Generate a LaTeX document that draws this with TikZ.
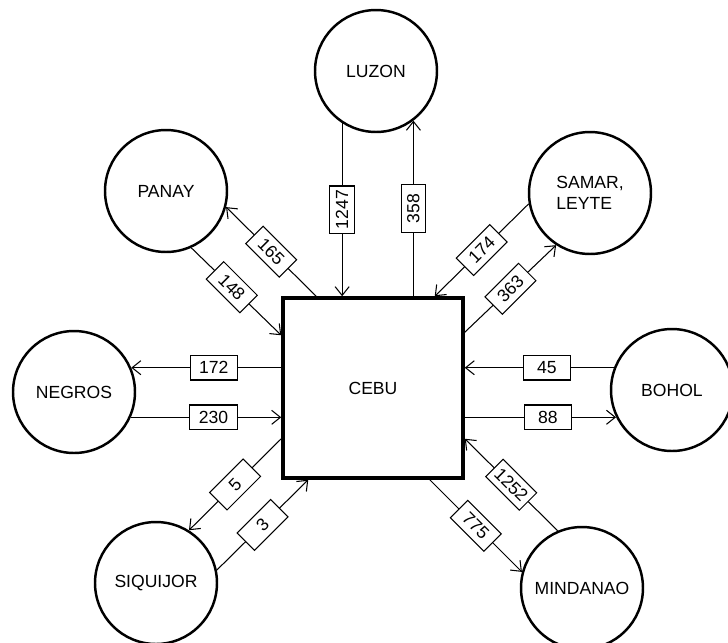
\documentclass[tikz,border=0pt]{standalone}
\usepackage{fontspec}
\setmainfont{Liberation Sans}
\usetikzlibrary{arrows.meta, calc}

\begin{document}
\begin{tikzpicture}[x=0.02cm, y=-0.02cm,
  island/.style={draw, circle, line width=1.4pt, minimum size=2.44cm, align=left},
  hub/.style={draw, rectangle, line width=2pt, minimum size=3.6cm},
  flow/.style={line width=0.6pt, -{Straight Barb[length=5pt,width=8pt]}},
  amount/.style={draw, fill=white, line width=0.6pt, minimum width=27pt, minimum height=14pt, inner sep=1pt}]
\useasboundingbox (0,0) rectangle (728,643);
\node (cebu) [hub] at (373,388) {CEBU};
\node (luzon) [island] at (376,71) {LUZON};
\node (panay) [island] at (166,191) {PANAY};
\node (samar) [island] at (590,193) {SAMAR,\\LEYTE};
\node (negros) [island] at (74,392) {NEGROS};
\node (bohol) [island] at (672,390) {BOHOL};
\node (siquijor) [island] at (156,583) {SIQUIJOR};
\node (mindanao) [island] at (582,588) {MINDANAO};
\draw[flow] (luzon.-123) -- node[amount, rotate=90] {1247} (luzon.-123 |- cebu.north);
\draw[flow] (luzon.-53 |- cebu.north) -- node[amount, rotate=90] {358} (luzon.-53);
\draw[flow] ($(cebu.north west)+(35,0)$) -- node[amount, rotate=-45] {165} (panay.-15);
\draw[flow] (panay.-66) -- node[amount, rotate=-45, pos=.45] {148} ($(cebu.north west)+(0,39)$);
\draw[flow] (samar.-170) -- node[amount, rotate=45] {174} ($(cebu.north east)+(-30,0)$);
\draw[flow] ($(cebu.north east)+(0,36)$) -- node[amount, rotate=45] {363} (samar.-123);
\draw[flow] (negros.23 -| cebu.west) -- node[amount, pos=.45] {172} (negros.23);
\draw[flow] (negros.-24) -- node[amount, pos=.55] {230} (negros.-24 -| cebu.west);
\draw[flow] (bohol.159) -- node[amount, pos=.45] {45} (bohol.159 -| cebu.east);
\draw[flow] (bohol.-154 -| cebu.east) -- node[amount, pos=.55] {88} (bohol.-154);
\draw[flow] ($(cebu.south west)+(0,-41)$) -- node[amount, rotate=45] {5} (siquijor.58);
\draw[flow] (siquijor.12) -- node[amount, rotate=45] {3} ($(cebu.south west)+(27,0)$);
\draw[flow] ($(cebu.south east)+(-35,0)$) -- node[amount, rotate=-45] {775} (mindanao.165);
\draw[flow] (mindanao.113) -- node[amount, rotate=-45] {1252} ($(cebu.south east)+(0,-41)$);
\end{tikzpicture}
\end{document}
